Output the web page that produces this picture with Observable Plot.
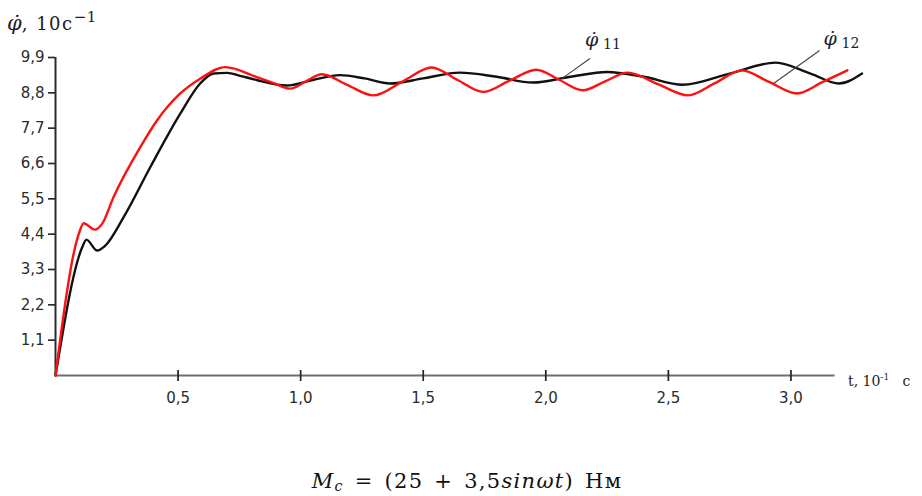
<!DOCTYPE html>
<html>
<head>
<meta charset="utf-8">
<script src="https://cdn.jsdelivr.net/npm/d3@7"></script>
<script src="https://cdn.jsdelivr.net/npm/@observablehq/plot@0.6"></script>
<style>
  body { margin: 0; background: #fff; }
  #wrap { position: relative; width: 922px; height: 496px; overflow: hidden; }
  #wrap svg { position: absolute; left: 0; top: 0; }
  .ytitle { position: absolute; left: 7px; top: 9px; font-family: "DejaVu Serif", serif; font-size: 18px; color: #1c1c2c; letter-spacing: 1.5px; white-space: nowrap; }
  .ytitle i { letter-spacing: 0; font-size: 21px; }
  .ytitle sup { font-size: 15px; position: relative; top: -1px; letter-spacing: 0.5px; }
  .xtitle { position: absolute; left: 848px; top: 372px; font-family: "DejaVu Serif", serif; font-size: 14px; color: #222; white-space: nowrap; }
  .xtitle sup { font-size: 9px; }
  .formula { position: absolute; left: 6px; width: 922px; top: 471px; line-height: 21px; text-align: center; font-family: "DejaVu Serif", serif; font-size: 21px; color: #111; white-space: nowrap; word-spacing: 3px; letter-spacing: 1.3px; }
  .formula sub { font-size: 14px; vertical-align: baseline; position: relative; top: 3px; line-height: 0; }
</style>
</head>
<body>
<div id="wrap">
  <div class="ytitle"><i>φ̇</i>, 10c<sup>−1</sup></div>
  <div class="xtitle">t, 10<sup>-1</sup>&nbsp;&nbsp;&nbsp;c</div>
  <div class="formula"><i>M<sub>c</sub></i> = (25 + 3,5<i>sinωt</i>) Нм</div>
</div>
<script>
// Angular speed of link 11 (black), 10 s^-1, against time, 10^-1 s
const phi11T = [0, 0.109, 0.126, 0.17, 0.2, 0.278, 0.387, 0.509, 0.59, 0.645, 0.7, 0.753, 0.82, 0.943, 1.05, 1.16, 1.26, 1.364, 1.5, 1.649, 1.8, 1.947, 2.1, 2.25, 2.4, 2.558, 2.75, 2.938, 3.08, 3.196, 3.29];
const phi11V = [0, 3.99, 4.23, 3.89, 4.02, 4.93, 6.49, 8.15, 9.09, 9.4, 9.42, 9.33, 9.2, 9.03, 9.2, 9.35, 9.25, 9.09, 9.25, 9.43, 9.3, 9.12, 9.3, 9.45, 9.3, 9.05, 9.4, 9.74, 9.4, 9.09, 9.4];

// Angular speed of link 12 (red)
const phi12T = [0, 0.095, 0.115, 0.16, 0.19, 0.237, 0.346, 0.414, 0.509, 0.59, 0.692, 0.821, 0.89, 0.957, 1.02, 1.086, 1.19, 1.296, 1.415, 1.534, 1.64, 1.744, 1.85, 1.961, 2.056, 2.151, 2.24, 2.334, 2.457, 2.58, 2.69, 2.8, 2.91, 3.025, 3.13, 3.23];
const phi12V = [0, 4.41, 4.74, 4.54, 4.72, 5.56, 7.11, 7.94, 8.78, 9.24, 9.6, 9.29, 9.1, 8.93, 9.15, 9.38, 9.05, 8.72, 9.15, 9.59, 9.2, 8.83, 9.17, 9.52, 9.2, 8.88, 9.15, 9.43, 9.07, 8.72, 9.1, 9.5, 9.14, 8.78, 9.14, 9.5];

const xTicks = [0.5, 1.0, 1.5, 2.0, 2.5, 3.0];
const yTicks = [1.1, 2.2, 3.3, 4.4, 5.5, 6.6, 7.7, 8.8, 9.9];

// Curve labels: leader start on the curve, leader end, label position
const labelNames = ["11", "12"];
const leaderStartT = [2.067, 2.929];
const leaderStartV = [9.25, 9.09];
const leaderEndT = [2.18, 3.117];
const leaderEndV = [9.87, 10.12];
const labelT = [2.16, 3.133];
const labelV = [10.27, 10.3];

const black = phi11T.map((t, i) => ({t, v: phi11V[i]}));
const red = phi12T.map((t, i) => ({t, v: phi12V[i]}));
const labels = labelNames.map((name, i) => ({
  name, t0: leaderStartT[i], v0: leaderStartV[i], t1: leaderEndT[i], v1: leaderEndV[i], tl: labelT[i], vl: labelV[i]
}));

const comma = d => d.toFixed(1).replace(".", ",");

const chart = Plot.plot({
  width: 922,
  height: 496,
  marginLeft: 55,
  marginRight: 58,
  marginTop: 57,
  marginBottom: 121,
  x: {domain: [0, 3.3]},
  y: {domain: [0, 9.9]},
  clip: false,
  style: {background: "transparent", overflow: "visible"},
  marks: [
    Plot.ruleY([0], {x1: 0, x2: 3.18, stroke: "#6e6e6e", strokeWidth: 2.2}),
    Plot.ruleX([0], {y1: 0, y2: 9.9, stroke: "#2a2a2a", strokeWidth: 2}),
    Plot.axisY(yTicks, {tickSize: 7, tickPadding: 4, tickFormat: comma, stroke: "#2a2a2a", strokeWidth: 1.7, fill: "#2b2b2b", fontSize: 15, fontFamily: "DejaVu Sans"}),
    Plot.axisX(xTicks, {tickSize: 11, dy: -5, tickFormat: () => "", stroke: "#222", strokeWidth: 1.7}),
    Plot.axisX(xTicks, {tickSize: 0, tickPadding: 17, tickFormat: comma, fill: "#2b2b2b", fontSize: 15, fontFamily: "DejaVu Sans"}),
    Plot.line(black, {x: "t", y: "v", curve: "monotone-x", stroke: "#111", strokeWidth: 2.4}),
    Plot.line(red, {x: "t", y: "v", curve: "monotone-x", stroke: "#ff1010", strokeWidth: 2.4}),
    Plot.link(labels, {x1: "t0", y1: "v0", x2: "t1", y2: "v1", stroke: "#444", strokeWidth: 1.1}),
    Plot.text(labels, {x: "tl", y: "vl", text: () => "φ̇", textAnchor: "start", lineAnchor: "bottom", fontFamily: "DejaVu Serif", fontStyle: "italic", fontSize: 19, fill: "#1c1c2c"}),
    Plot.text(labels, {x: "tl", y: "vl", text: "name", dx: 18, dy: 3, textAnchor: "start", lineAnchor: "bottom", fontFamily: "DejaVu Serif", fontSize: 14, fill: "#1c1c2c"})
  ]
});
document.getElementById("wrap").prepend(chart);
</script>
</body>
</html>
